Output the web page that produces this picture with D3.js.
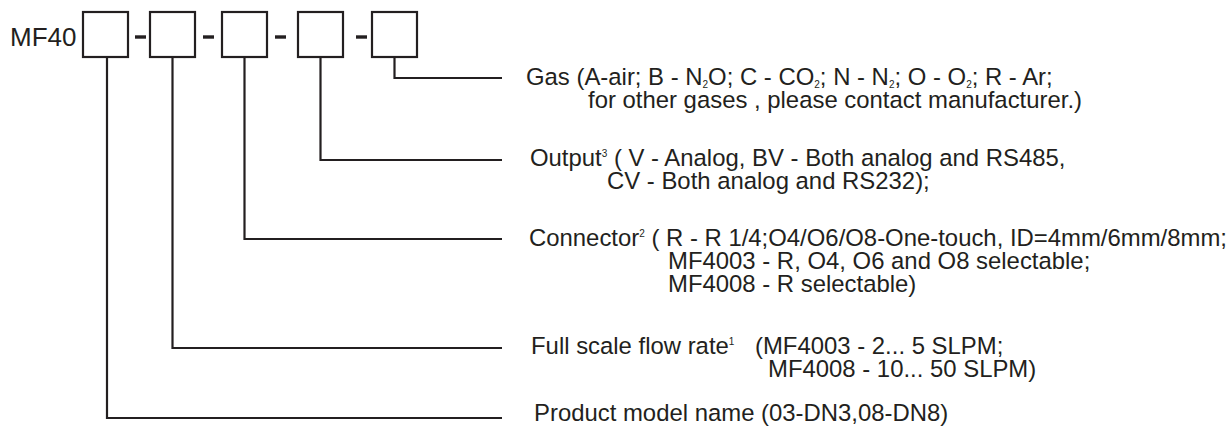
<!DOCTYPE html>
<html>
<head>
<meta charset="utf-8">
<script src="https://cdn.jsdelivr.net/npm/d3@7"></script>
<style>
  html, body { margin: 0; padding: 0; background: #fff; }
  svg { display: block; }
</style>
</head>
<body>
<div id="chart"></div>
<script>
// order codes as they appear in the part number, left to right
const fields = ['model', 'flow', 'connector', 'output', 'gas'];
const prefix = 'MF40';

// description text per field; _{x} = subscript, ^{x} = superscript, \t = jump to column
const modelText = ['Product model name (03-DN3,08-DN8)'];
const flowText = ['Full scale flow rate^{1}\t(MF4003 - 2... 5 SLPM;', 'MF4008 - 10... 50 SLPM)'];
const connectorText = [
  'Connector^{2} ( R - R 1/4;O4/O6/O8-One-touch, ID=4mm/6mm/8mm;',
  'MF4003 - R, O4, O6 and O8 selectable;',
  'MF4008 - R selectable)'
];
const outputText = ['Output^{3} ( V - Analog, BV - Both analog and RS485,', 'CV - Both analog and RS232);'];
const gasText = [
  'Gas (A-air; B - N_{2}O; C - CO_{2}; N - N_{2}; O - O_{2}; R - Ar;',
  'for other gases , please contact manufacturer.)'
];
const texts = { model: modelText, flow: flowText, connector: connectorText, output: outputText, gas: gasText };

const width = 1228, height = 427;
const ink = '#231f20';
const boxW = 45, boxTop = 12, boxH = 45;
const lineEnd = 502;
const fontSize = 23.9, lineGap = 23;

// box left edges and leader row heights
const xBox = d3.scaleOrdinal().domain(fields).range([83, 150, 222, 298, 372]);
const yRow = d3.scaleOrdinal().domain(fields).range([418, 348, 239, 160, 78]);
// baseline offset from leader row
const yBase = d3.scaleOrdinal().domain(fields).range([3, 6, 7, 6, 7]);
// text start, continuation indent, tab column
const xText = d3.scaleOrdinal().domain(fields).range([534, 531, 529, 530, 526]);
const xIndent = d3.scaleOrdinal().domain(fields).range([534, 768, 668, 607, 588]);
const xTab = d3.scaleOrdinal().domain(fields).range([0, 755, 0, 0, 0]);

const svg = d3.select('#chart').append('svg')
  .attr('width', width)
  .attr('height', height);

const font = '"Liberation Sans", Arial, sans-serif';

// prefix
svg.append('text')
  .attr('x', 10)
  .attr('y', 46)
  .style('font-family', font)
  .style('font-size', '26px')
  .style('fill', ink)
  .text(prefix);

// boxes
svg.selectAll('.box')
  .data(fields)
  .enter()
  .append('rect')
  .attr('class', 'box')
  .attr('x', d => xBox(d))
  .attr('y', boxTop)
  .attr('width', boxW)
  .attr('height', boxH)
  .attr('fill', 'none')
  .attr('stroke', ink)
  .attr('stroke-width', 2.2);

// dashes between boxes
const dashX = [140.5, 208.5, 280.5, 361.5];
svg.selectAll('.dash')
  .data(dashX)
  .enter()
  .append('line')
  .attr('class', 'dash')
  .attr('x1', d => d - 5.5)
  .attr('x2', d => d + 5.5)
  .attr('y1', 37)
  .attr('y2', 37)
  .attr('stroke', ink)
  .attr('stroke-width', 3.4);

// leaders
svg.selectAll('.leader')
  .data(fields)
  .enter()
  .append('path')
  .attr('class', 'leader')
  .attr('d', d => {
    const cx = xBox(d) + boxW / 2 + (d === 'model' ? 1.5 : 0);
    return `M${cx},${boxTop + boxH}V${yRow(d)}H${lineEnd}`;
  })
  .attr('fill', 'none')
  .attr('stroke', ink)
  .attr('stroke-width', 2.2);

// descriptions
function addLine(textSel, str, field) {
  const parts = str.split(/(_\{[^}]*\}|\^\{[^}]*\}|\t)/).filter(p => p !== '');
  let shift = 0;
  let jumpX = null;
  parts.forEach(p => {
    if (p === '\t') { jumpX = xTab(field); return; }
    let size = null, target = 0, content = p;
    if (p.startsWith('_{')) { size = 10; target = 3; content = p.slice(2, -1); }
    else if (p.startsWith('^{')) { size = 10; target = -9; content = p.slice(2, -1); }
    const ts = textSel.append('tspan').attr('dy', target - shift).text(content);
    if (jumpX !== null) { ts.attr('x', jumpX); jumpX = null; }
    if (size) ts.style('font-size', size + 'px');
    shift = target;
  });
}

fields.forEach(field => {
  const lines = texts[field];
  const g = svg.append('g').attr('class', 'desc');
  lines.forEach((str, i) => {
    const t = g.append('text')
      .attr('x', i === 0 ? xText(field) : xIndent(field))
      .attr('y', yRow(field) + yBase(field) + i * lineGap)
      .attr('xml:space', 'preserve')
      .style('font-family', font)
      .style('font-size', fontSize + 'px')
      .style('fill', ink);
    addLine(t, str, field);
  });
});
</script>
</body>
</html>
